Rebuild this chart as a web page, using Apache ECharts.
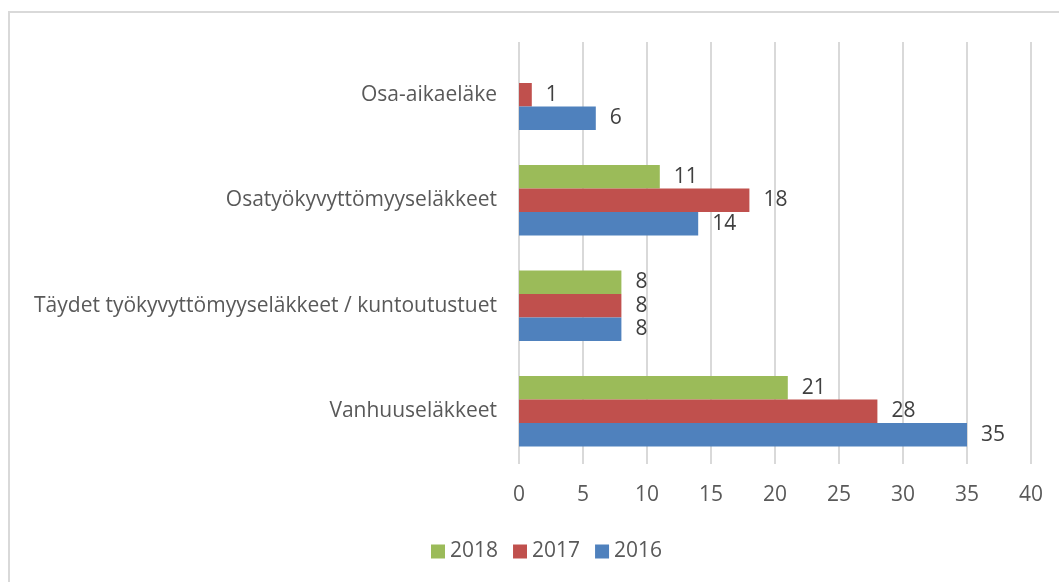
<!DOCTYPE html>
<html>
<head>
<meta charset="utf-8">
<script src="https://cdn.jsdelivr.net/npm/echarts@6/dist/echarts.min.js"></script>
<style>
  html, body { margin: 0; padding: 0; background: #fff; }
  #chart { width: 1059px; height: 582px; }
</style>
</head>
<body>
<div id="chart"></div>
<script>
// categories, bottom to top as drawn
const categories = [
  'Vanhuuseläkkeet',
  'Täydet työkyvyttömyyseläkkeet / kuntoutustuet',
  'Osatyökyvyttömyyseläkkeet',
  'Osa-aikaeläke'
]
const years = ['2018', '2017', '2016']
const values2018 = [21, 8, 11, null]
const values2017 = [28, 8, 18, 1]
const values2016 = [35, 8, 14, 6]
const colors = ['#9BBB59', '#C0504D', '#4F81BD']

const font = '"Open Sans", sans-serif'

const chart = echarts.init(document.getElementById('chart'))

const seriesData = [values2018, values2017, values2016].map((data, i) => {
  return {
    name: years[i],
    type: 'bar',
    data: data,
    barGap: '0%',
    barCategoryGap: '33%',
    itemStyle: { color: colors[i] },
    label: {
      show: true,
      position: 'right',
      distance: 14,
      color: '#404040',
      fontSize: 21,
      fontFamily: font
    }
  }
})

chart.setOption({
  animation: false,
  textStyle: { fontFamily: font },
  graphic: [
    {
      type: 'rect',
      shape: { x: 9, y: 12, width: 1200, height: 700 },
      style: { fill: 'none', stroke: '#d9d9d9', lineWidth: 2 },
      silent: true
    }
  ],
  legend: {
    top: 536,
    left: 426,
    itemWidth: 14,
    itemHeight: 14,
    itemGap: 15,
    icon: 'rect',
    data: years,
    textStyle: { color: '#595959', fontSize: 21, fontFamily: font }
  },
  grid: {
    left: 519,
    right: 28,
    top: 42,
    bottom: 118
  },
  xAxis: {
    type: 'value',
    min: 0,
    max: 40,
    interval: 5,
    axisLine: { show: false },
    axisTick: { show: false },
    splitLine: { lineStyle: { color: '#d9d9d9', width: 2 } },
    axisLabel: { color: '#595959', fontSize: 21, margin: 21, fontFamily: font }
  },
  yAxis: {
    type: 'category',
    data: categories,
    axisLine: { show: false },
    axisTick: { show: false },
    axisLabel: { color: '#595959', fontSize: 21, margin: 22, fontFamily: font }
  },
  series: seriesData
})
</script>
</body>
</html>
